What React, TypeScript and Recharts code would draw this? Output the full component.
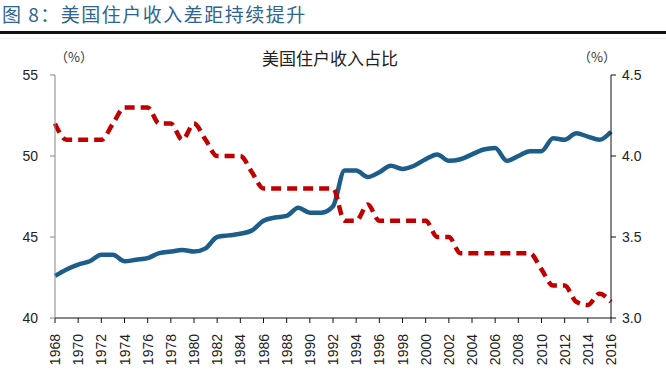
import { LineChart, Line, XAxis, YAxis } from 'recharts';

// 年份
const years = [
  1968, 1969, 1970, 1971, 1972, 1973, 1974, 1975, 1976, 1977, 1978, 1979,
  1980, 1981, 1982, 1983, 1984, 1985, 1986, 1987, 1988, 1989, 1990, 1991,
  1992, 1993, 1994, 1995, 1996, 1997, 1998, 1999, 2000, 2001, 2002, 2003,
  2004, 2005, 2006, 2007, 2008, 2009, 2010, 2011, 2012, 2013, 2014, 2015, 2016,
];

// 最高20%住户收入占比（左轴）
const top20Share = [
  42.6, 43.0, 43.3, 43.5, 43.9, 43.9, 43.5, 43.6, 43.7, 44.0, 44.1, 44.2,
  44.1, 44.3, 45.0, 45.1, 45.2, 45.4, 46.0, 46.2, 46.3, 46.8, 46.5, 46.5,
  46.9, 49.1, 49.1, 48.7, 49.0, 49.4, 49.2, 49.4, 49.8, 50.1, 49.7, 49.8,
  50.1, 50.4, 50.5, 49.7, 50.0, 50.3, 50.3, 51.1, 51.0, 51.4, 51.2, 51.0, 51.5,
];

// 最低20%住户收入占比（右轴）
const bottom20Share = [
  4.2, 4.1, 4.1, 4.1, 4.1, 4.2, 4.3, 4.3, 4.3, 4.2, 4.2, 4.1,
  4.2, 4.1, 4.0, 4.0, 4.0, 3.9, 3.8, 3.8, 3.8, 3.8, 3.8, 3.8,
  3.8, 3.6, 3.6, 3.7, 3.6, 3.6, 3.6, 3.6, 3.6, 3.5, 3.5, 3.4,
  3.4, 3.4, 3.4, 3.4, 3.4, 3.4, 3.3, 3.2, 3.2, 3.1, 3.08, 3.15, 3.1,
];

const leftTicks = [40, 45, 50, 55];
const rightTicks = [3.0, 3.5, 4.0, 4.5];

const data = years.map((y, i) => ({ year: y, top: top20Share[i], bottom: bottom20Share[i] }));

const font = '"Liberation Sans", Arial, sans-serif';
const cjk = '"Noto Sans CJK SC", sans-serif';

function YearTick(props: any) {
  const { x, y, payload } = props;
  return (
    <text
      x={0}
      y={0}
      transform={`translate(${x},${y + 9}) rotate(-90)`}
      textAnchor="end"
      dominantBaseline="central"
      fontSize={14}
      fontFamily={font}
      fill="#222"
    >
      {payload.value}
    </text>
  );
}

export default function App() {
  return (
    <div style={{ position: 'fixed', left: 0, top: 0, width: 666, height: 385, background: '#fff', overflow: 'hidden' }}>
      <div style={{ position: 'absolute', left: 2, top: 2, fontSize: 19, letterSpacing: 1.5, color: '#2e6591', fontFamily: cjk, lineHeight: '24px', whiteSpace: 'nowrap' }}>
        图 8：美国住户收入差距持续提升
      </div>
      <div style={{ position: 'absolute', left: 0, top: 31, width: 666, height: 3, background: '#111' }} />
      <div style={{ position: 'absolute', left: 0, top: 38, width: 666, height: 1, background: '#eee' }} />

      <div style={{ position: 'absolute', left: 0, width: 666, top: 46, textAlign: 'center', fontSize: 17, fontFamily: cjk, color: '#222', lineHeight: '24px' }}>
        <span style={{ position: 'relative', left: -3 }}>美国住户收入占比</span>
      </div>
      <div style={{ position: 'absolute', left: 55, top: 48, fontSize: 13, fontFamily: cjk, color: '#333', lineHeight: '18px' }}>（%）</div>
      <div style={{ position: 'absolute', left: 578, top: 48, fontSize: 13, fontFamily: cjk, color: '#333', lineHeight: '18px' }}>（%）</div>

      <LineChart
        width={666}
        height={385}
        data={data}
        margin={{ top: 75, right: 15, bottom: 17, left: 15 }}
        style={{ position: 'absolute', left: 0, top: 0 }}
      >
        <XAxis
          dataKey="year"
          interval={1}
          height={50}
          tick={<YearTick />}
          tickSize={5}
          stroke="#111"
        />
        <YAxis
          yAxisId="left"
          orientation="left"
          domain={[40, 55]}
          ticks={leftTicks}
          width={40}
          tickSize={5}
          tickMargin={12}
          stroke="#888"
          tick={{ fill: '#222', fontSize: 14, fontFamily: font }}
        />
        <YAxis
          yAxisId="right"
          orientation="right"
          domain={[3.0, 4.5]}
          ticks={rightTicks}
          width={40}
          tickSize={5}
          tickMargin={6}
          stroke="#111"
          tickFormatter={(v: number) => v.toFixed(1)}
          tick={{ fill: '#222', fontSize: 14, fontFamily: font }}
        />
        <Line
          yAxisId="left"
          type="monotone"
          dataKey="top"
          stroke="#1d5d8a"
          strokeWidth={4.5}
          dot={false}
          isAnimationActive={false}
        />
        <Line
          yAxisId="right"
          type="monotone"
          dataKey="bottom"
          stroke="#c00000"
          strokeWidth={4.5}
          strokeDasharray="10 6"
          dot={false}
          isAnimationActive={false}
        />
      </LineChart>
    </div>
  );
}
